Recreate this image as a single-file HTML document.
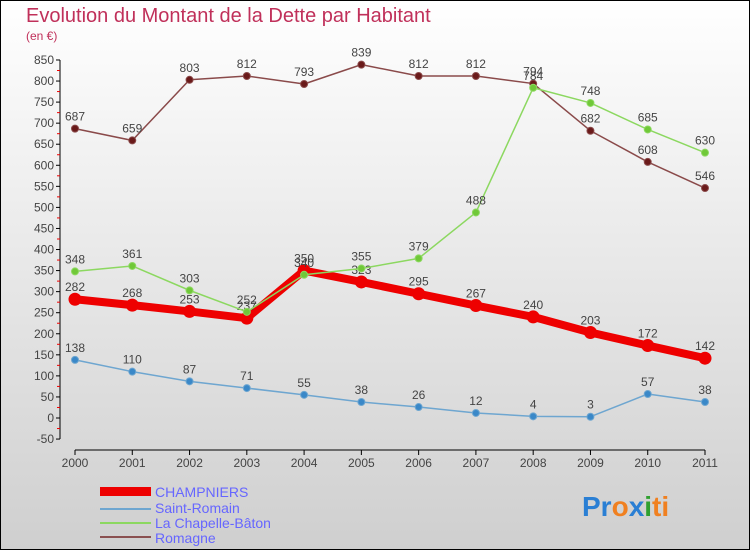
<!DOCTYPE html>
<html><head><meta charset="utf-8"><style>
body{margin:0;}
#c{width:750px;height:550px;position:relative;overflow:hidden;}
svg text{font-family:"Liberation Sans",sans-serif;}
</style></head><body>
<div id="c">
<svg id="s" width="750" height="550" xmlns="http://www.w3.org/2000/svg">
<defs><linearGradient id="bg" x1="0" y1="0" x2="0" y2="1"><stop offset="0" stop-color="#ffffff"/><stop offset="1" stop-color="#cfcfcf"/></linearGradient></defs>
<rect x="0.5" y="0.5" width="749" height="549" fill="url(#bg)" stroke="#000"/>
<text x="26" y="22" font-size="20" fill="#c0305a">Evolution du Montant de la Dette par Habitant</text>
<text x="26" y="40" font-size="12" fill="#c0305a">(en €)</text>
<g id="axes"></g><g id="series"></g>
<g>
<rect x="100" y="487" width="51" height="9" fill="#ee0000"/>
<text x="155" y="497" font-size="14" fill="#6666ff">CHAMPNIERS</text>
<rect x="100" y="508" width="51" height="2" fill="#6ea6d0"/>
<text x="155" y="513" font-size="14" fill="#6666ff">Saint-Romain</text>
<rect x="100" y="522" width="51" height="2" fill="#8cd860"/>
<text x="155" y="528" font-size="14" fill="#6666ff">La Chapelle-Bâton</text>
<rect x="100" y="536" width="51" height="2" fill="#8a5050"/>
<text x="155" y="543" font-size="14" fill="#6666ff">Romagne</text>
</g>
<g font-size="28" font-weight="bold">
<text x="582" y="516"><tspan fill="#2a7fd4">Pr</tspan><tspan fill="#f08020">o</tspan><tspan fill="#2a7fd4">x</tspan><tspan fill="#30a030">i</tspan><tspan fill="#f08020">ti</tspan></text>
</g>
</svg></div>
<script>
const years=[2000,2001,2002,2003,2004,2005,2006,2007,2008,2009,2010,2011];
const yTicks=[-50,0,50,100,150,200,250,300,350,400,450,500,550,600,650,700,750,800,850];
const champniers=[282,268,253,237,350,323,295,267,240,203,172,142];
const saintRomain=[138,110,87,71,55,38,26,12,4,3,57,38];
const chapelle=[348,361,303,252,340,355,379,488,784,748,685,630];
const romagne=[687,659,803,812,793,839,812,812,794,682,608,546];
const NS="http://www.w3.org/2000/svg";
function X(i){return 75+i*(705-75)/(years.length-1);}
function Y(v){return 418-v*0.4212;}
function mk(p,t,a){const e=document.createElementNS(NS,t);for(const k in a)e.setAttribute(k,a[k]);p.appendChild(e);return e;}
const ax=document.getElementById('axes');
let yl=mk(ax,'line',{x1:60,y1:Y(850),x2:60,y2:Y(-50),stroke:'#000'});


yTicks.forEach(v=>{
 mk(ax,'line',{x1:56,y1:Y(v),x2:60,y2:Y(v),stroke:'#000'});
 if(v<850) mk(ax,'line',{x1:57,y1:Y(v+25),x2:60,y2:Y(v+25),stroke:'#e00'});
 const t=mk(ax,'text',{x:54,y:Y(v)+4,'font-size':12,fill:'#444','text-anchor':'end'});t.textContent=v;
 
 
});
let xl=mk(ax,'line',{x1:75,y1:450,x2:705,y2:450,stroke:'#000'});


years.forEach((y,i)=>{
 mk(ax,'line',{x1:X(i),y1:450,x2:X(i),y2:455,stroke:'#000'});
 const t=mk(ax,'text',{x:X(i),y:467,'font-size':12,fill:'#444','text-anchor':'middle'});t.textContent=y;
 
 
});
const sg=document.getElementById('series');
function series(data,color,w,r,name,dot){
 const g=mk(sg,'g',{});
 
 
 mk(g,'polyline',{points:data.map((v,i)=>X(i)+','+Y(v)).join(' '),fill:'none',stroke:color,'stroke-width':w,'stroke-linejoin':'round'});
 data.forEach((v,i)=>{
  const c=mk(g,'circle',{cx:X(i),cy:Y(v),r:r,fill:dot,stroke:color});
  
  
  const t=mk(g,'text',{x:X(i),y:Y(v)-8,'font-size':12,fill:'#444','text-anchor':'middle'});t.textContent=v;
  
  
 });
}
series(romagne,'#8a4a4a',1.5,3.5,'romagne','#6a1a1a');
series(saintRomain,'#6ea6d0',1.5,3.5,'saint-romain','#3a88c8');
series(champniers,'#ee0000',8,6,'champniers','#ee0000');
series(chapelle,'#8cd860',1.5,3.5,'la-chapelle-baton','#70c838');
</script>
</body></html>
